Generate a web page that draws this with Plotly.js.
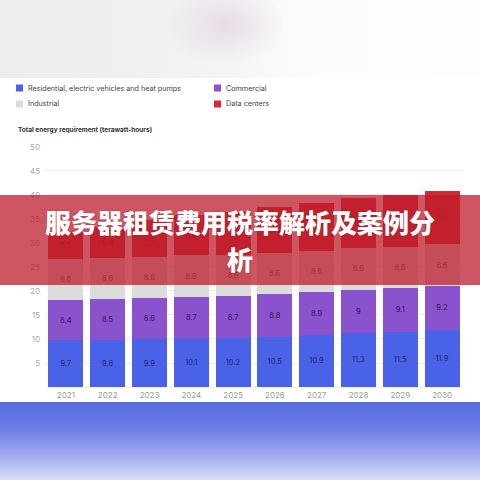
<!DOCTYPE html>
<html>
<head>
<meta charset="utf-8">
<script src="https://cdn.plot.ly/plotly-3.0.1.min.js"></script>
<style>
  html, body { margin: 0; padding: 0; width: 480px; height: 480px; overflow: hidden; background: #fff; }
  #topblur { position: absolute; left: 0; top: 0; width: 480px; height: 78px;
    background: radial-gradient(ellipse 60px 40px at 225px 25px, rgba(228,218,228,0.9), rgba(255,255,255,0)),
                linear-gradient(90deg, #ececec 0%, #f2f2f2 40%, #fcfcfc 65%, #fefefe 100%); }
  #bottomband { position: absolute; left: 0; top: 402px; width: 480px; height: 78px;
    background: linear-gradient(180deg, #586be0 0%, #6c7de5 35%, #a3aeee 70%, #d9def8 100%); }
  #chart { position: absolute; left: 0; top: 0; width: 480px; height: 480px; }
  #banner { position: absolute; left: 0; top: 195px; width: 480px; height: 90px;
    background: rgba(190, 30, 45, 0.75); }
  #banner div { position: absolute; left: 0; width: 480px; text-align: center; color: #fff;
    font-family: "Noto Sans CJK SC", sans-serif; font-weight: 900; font-size: 26px; line-height: 30px;
    text-shadow: 0 0 2px rgba(90,0,0,0.35); }
</style>
</head>
<body>
<div id="topblur"></div>
<div id="bottomband"></div>
<div id="chart"></div>
<div id="banner">
  <div style="top:12px">服务器租赁费用税率解析及案例分</div>
  <div style="top:49px">析</div>
</div>
<script>
// 数据
const years = ['2021', '2022', '2023', '2024', '2025', '2026', '2027', '2028', '2029', '2030'];
const residential = [9.7, 9.8, 9.9, 10.1, 10.2, 10.5, 10.9, 11.3, 11.5, 11.9];
const commercial = [8.4, 8.5, 8.6, 8.7, 8.7, 8.8, 8.9, 9, 9.1, 9.2];
const industrial = [8.6, 8.6, 8.6, 8.6, 8.6, 8.6, 8.6, 8.6, 8.6, 8.6];
const dataCenters = [5.5, 6.4, 7.6, 8.4, 9.0, 9.5, 9.9, 10.4, 10.8, 11.2];
const seriesNames = ['Residential, electric vehicles and heat pumps', 'Commercial', 'Industrial', 'Data centers'];
const seriesColors = ['#4a62e8', '#8a52cc', '#dcdcdc', '#d22a32'];
const labelColors = ['#1d2566', '#2e1850', '#6a4a4a', '#7a1418'];

const M = { l: 45, r: 17, t: 146, b: 93 };
const PW = 480 - M.l - M.r, PH = 480 - M.t - M.b;
// pixel -> paper, for the legend and the axis heading
const px = v => (v - M.l) / PW;
const py = v => (480 - M.b - v) / PH;

function barTrace(i, vals) {
  return {
    type: 'bar', x: years, y: vals, name: seriesNames[i],
    marker: { color: seriesColors[i], line: { width: 0 } },
    text: vals.map(v => String(v)), textposition: 'inside', insidetextanchor: 'middle',
    textangle: 0, constraintext: 'none',
    textfont: { family: 'Inter, Roboto, sans-serif', size: 7.5, color: labelColors[i] },
    hoverinfo: 'skip', showlegend: false
  };
}

let data = [residential, commercial, industrial, dataCenters].map((v, i) => barTrace(i, v));

// legend drawn by hand: 2 columns
const legPos = [[16, 88], [214, 88], [16, 104], [214, 104]];
let shapes = [], annotations = [];
seriesNames.forEach((n, i) => {
  const [lx, ly] = legPos[i];
  shapes.push({ type: 'rect', xref: 'paper', yref: 'paper', x0: px(lx), x1: px(lx + 7), y0: py(ly + 3.5), y1: py(ly - 3.5),
    fillcolor: seriesColors[i], line: { width: 0 } });
  annotations.push({ text: n, xref: 'paper', yref: 'paper', x: px(lx + 10), y: py(ly), xanchor: 'left', yanchor: 'middle',
    showarrow: false, font: { family: 'Inter, Roboto, sans-serif', size: 7.2, color: '#444' } });
});
annotations.push({
  text: '<b>Total energy requirement (terawatt-hours)</b>',
  xref: 'paper', yref: 'paper', x: px(16), y: py(130), xanchor: 'left', yanchor: 'middle', showarrow: false,
  font: { family: 'Inter, Roboto, sans-serif', size: 6.5, color: '#333' }
});

let layout = {
  width: 480, height: 480,
  margin: M,
  paper_bgcolor: 'rgba(0,0,0,0)', plot_bgcolor: 'rgba(0,0,0,0)',
  barmode: 'stack', bargap: 0.16,
  showlegend: false,
  xaxis: {
    type: 'category', showgrid: false, zeroline: false, showline: true, linecolor: '#eeeeee',
    ticks: '', tickfont: { family: 'Inter, Roboto, sans-serif', size: 8, color: '#9a9a9a' }
  },
  yaxis: {
    range: [0, 50.2], showgrid: true, gridcolor: '#eeeeee', zeroline: false,
    ticks: '', ticklabelstandoff: 4,
    tickvals: [5, 10, 15, 20, 25, 30, 35, 40, 45, 50],
    tickfont: { family: 'Inter, Roboto, sans-serif', size: 8, color: '#a8a8a8' }
  },
  shapes: shapes,
  annotations: annotations
};

Plotly.newPlot('chart', data, layout, { displayModeBar: false, staticPlot: true });
</script>
</body>
</html>
